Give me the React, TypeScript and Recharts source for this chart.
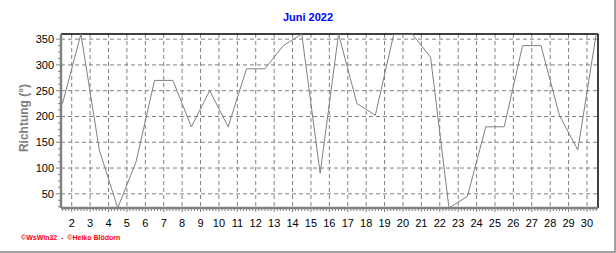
import { CartesianGrid, Line, LineChart, ReferenceLine, XAxis, YAxis } from 'recharts';

// Windrichtung, Tagesmittel Juni 2022 (Tag 1..30)
const directions = [
  225, 360, 135, 22.5, 112.5, 270, 270, 180, 250, 180,
  292.5, 292.5, 337.5, 360, 90, 360, 225, 202.5, 360, 360,
  315, 22.5, 45, 180, 180, 337.5, 337.5, 202.5, 135, 360,
];
const dayTicks = [2, 3, 4, 5, 6, 7, 8, 9, 10, 11, 12, 13, 14, 15, 16, 17, 18, 19, 20, 21, 22, 23, 24, 25, 26, 27, 28, 29, 30];
const dirTicks = [50, 100, 150, 200, 250, 300, 350];

const X_MIN = 1.418;
const X_MAX = 30.598;
const Y_MIN = 22.5;
const Y_MAX = 360;

const data = directions.map((dir, i) => ({ t: i + 1.5, dir }));

// 4-hour minor ticks on x, 12.5 degree minor ticks on y
const xMinor: number[] = [];
for (let k = Math.ceil(X_MIN * 6); k <= Math.floor(X_MAX * 6); k++) xMinor.push(k / 6);
const yMinor: number[] = [];
for (let v = 25; v <= 350; v += 12.5) yMinor.push(v);

const font = 'Arial, "Liberation Sans", sans-serif';

function DayTick({ x, y, payload }: any) {
  const v = payload?.value as number;
  const major = Math.abs(v - Math.round(v)) < 1e-6;
  return (
    <g>
      <line x1={x} x2={x} y1={y} y2={y + (major ? 4 : 3)} stroke="#808080" strokeWidth={1} />
      {major && (
        <text x={x} y={y + 19} textAnchor="middle" fill="#000" fontFamily={font} fontSize={11}>
          {Math.round(v)}
        </text>
      )}
    </g>
  );
}

function DirTick({ x, y, payload }: any) {
  const v = payload?.value as number;
  const major = v % 50 === 0;
  return (
    <g>
      <line x1={x - (major ? 5 : 3)} x2={x} y1={y} y2={y} stroke="#808080" strokeWidth={1} />
      {major && (
        <text x={x - 7} y={y + 4} textAnchor="end" fill="#000" fontFamily={font} fontSize={11}>
          {v}
        </text>
      )}
    </g>
  );
}

export default function App() {
  return (
    <div
      style={{
        position: 'absolute',
        left: 0,
        top: 0,
        width: 616,
        height: 253,
        background: '#fff',
        boxSizing: 'border-box',
        borderRight: '2px solid #a0a0a0',
        borderBottom: '2px solid #a0a0a0',
        fontFamily: font,
      }}
    >
      <div
        style={{
          position: 'absolute',
          left: 0,
          width: 616,
          top: 11,
          textAlign: 'center',
          color: '#0000ff',
          fontWeight: 700,
          fontSize: 11,
        }}
      >
        Juni 2022
      </div>
      <div style={{ position: 'absolute', left: 0, top: 0 }}>
        <LineChart width={616} height={253} data={data} margin={{ top: 34, right: 18, bottom: 25, left: 0 }}>
          <CartesianGrid
            stroke="#808080"
            strokeDasharray="4 3"
            horizontalValues={dirTicks}
            verticalValues={dayTicks}
          />
          <XAxis
            dataKey="t"
            type="number"
            domain={[X_MIN, X_MAX]}
            ticks={xMinor}
            interval={0}
            height={20}
            tickSize={0}
            tickMargin={0}
            tickLine={false}
            axisLine={{ stroke: '#808080', strokeWidth: 2.5 }}
            tick={<DayTick />}
            allowDataOverflow
          />
          <YAxis
            type="number"
            domain={[Y_MIN, Y_MAX]}
            ticks={yMinor}
            interval={0}
            width={61}
            tickSize={0}
            tickMargin={0}
            tickLine={false}
            axisLine={{ stroke: '#808080', strokeWidth: 2.5 }}
            tick={<DirTick />}
            allowDataOverflow
            label={{
              content: () => (
                <text
                  x={28}
                  y={118}
                  transform="rotate(-90 28 118)"
                  textAnchor="middle"
                  fill="#808080"
                  fontFamily={font}
                  fontSize={12}
                  fontWeight={700}
                >
                  Richtung  (°)
                </text>
              ),
            }}
          />
          <ReferenceLine y={Y_MAX} stroke="#000" strokeWidth={1.5} ifOverflow="extendDomain" />
          <ReferenceLine x={X_MAX} stroke="#000" strokeWidth={1.5} ifOverflow="extendDomain" />
          <Line
            dataKey="dir"
            type="linear"
            stroke="#808080"
            strokeWidth={1}
            dot={false}
            isAnimationActive={false}
          />
        </LineChart>
      </div>
      <div
        style={{
          position: 'absolute',
          left: 21,
          top: 234,
          color: '#ff0000',
          fontSize: 7,
          fontWeight: 700,
          whiteSpace: 'pre',
        }}
      >
        ©WsWin32  -  ©Heiko Blödorn
      </div>
    </div>
  );
}
